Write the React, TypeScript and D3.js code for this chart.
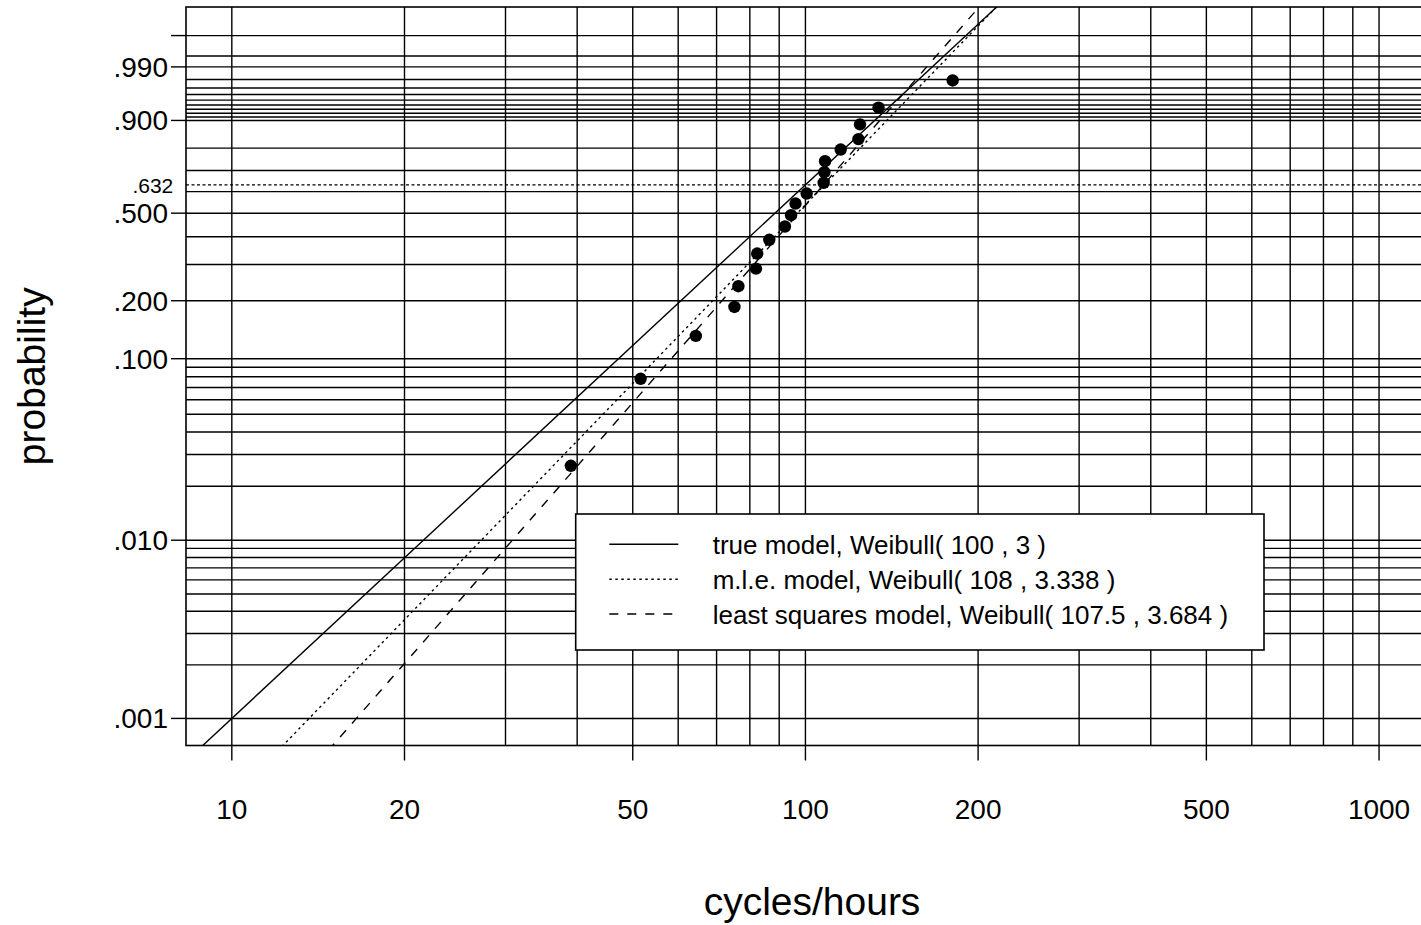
import React from "react";
import * as d3 from "d3";

// Observed failure times and their plotting probabilities
const failureTimes = [
  39.0, 51.6, 64.4, 75.2, 76.4, 82.0, 82.4, 86.5, 92.1, 94.4,
  96.1, 100.5, 107.6, 107.9, 108.2, 115.2, 123.7, 124.5, 134.1, 180.6,
];
const failureProbs = [
  0.026, 0.078, 0.132, 0.186, 0.236, 0.287, 0.337, 0.388, 0.442, 0.491,
  0.544, 0.591, 0.642, 0.692, 0.743, 0.794, 0.836, 0.888, 0.934, 0.979,
];

// Fitted Weibull models (scale eta, shape beta)
const modelNames = [
  "true model, Weibull( 100 , 3 )",
  "m.l.e. model, Weibull( 108 , 3.338 )",
  "least squares model, Weibull( 107.5 , 3.684 )",
];
const modelEta = [100, 108, 107.5];
const modelBeta = [3, 3.338, 3.684];

// Axis ticks
const xTickValues = [10, 20, 50, 100, 200, 500, 1000];
const xTickLabels = ["10", "20", "50", "100", "200", "500", "1000"];
const xGridValues = [
  10, 20, 30, 40, 50, 60, 70, 80, 90, 100,
  200, 300, 400, 500, 600, 700, 800, 900, 1000,
];
const yTickValues = [0.001, 0.01, 0.1, 0.2, 0.5, 0.9, 0.99, 0.999];
const yTickLabels = [".001", ".010", ".100", ".200", ".500", ".900", ".990", ""];
const yGridValues = [
  0.001, 0.002, 0.003, 0.004, 0.005, 0.006, 0.007, 0.008, 0.009,
  0.01, 0.02, 0.03, 0.04, 0.05, 0.06, 0.07, 0.08, 0.09,
  0.1, 0.2, 0.3, 0.4, 0.5, 0.6, 0.7, 0.8, 0.9,
  0.91, 0.92, 0.93, 0.94, 0.95, 0.96, 0.97, 0.98, 0.99,
  0.995, 0.999,
];
const characteristicProb = 0.632;

const W = 1421;
const H = 925;
const plot = { left: 186, right: 1438, top: 7, bottom: 745.5 };
const FONT = "'Liberation Sans', Arial, Helvetica, sans-serif";

// Weibull probability transform: log10(-ln(1 - p))
const wtrans = (p: number) => Math.log10(-Math.log(1 - p));

const x = d3.scaleLog().domain([8.32, 1267]).range([plot.left, plot.right]);
const y = d3.scaleLinear().domain([-3.152, 1.0]).range([plot.bottom, plot.top]);
const yp = (p: number) => y(wtrans(p));

const dashes = [null, "2.5,3.5", "9,9"];

export default function App() {
  const tDomain = x.domain();

  // Weibull CDF is a straight line on these axes: beta * log10(t / eta)
  const modelPath = (k: number) =>
    d3
      .line<number>()
      .x((t) => x(t))
      .y((t) => y(modelBeta[k] * Math.log10(t / modelEta[k])))([
      tDomain[0],
      tDomain[1],
    ]) as string;

  const legend = { x0: 575.7, y0: 514, x1: 1264, y1: 650 };
  const rowY = [544.3, 579.3, 614];
  const lw = 1.4;

  return (
    <svg
      width={W}
      height={H}
      style={{ position: "absolute", left: 0, top: 0, background: "#fff" }}
      fontFamily={FONT}
    >
      <defs>
        <clipPath id="plotClip">
          <rect
            x={plot.left}
            y={plot.top}
            width={plot.right - plot.left}
            height={plot.bottom - plot.top}
          />
        </clipPath>
      </defs>
      <rect width={W} height={H} fill="#fff" />

      {/* grid */}
      <g stroke="#000" strokeWidth={lw}>
        {yGridValues.map((p) => (
          <line key={"h" + p} x1={plot.left} x2={plot.right} y1={yp(p)} y2={yp(p)} />
        ))}
        {xGridValues.map((t) => (
          <line key={"v" + t} x1={x(t)} x2={x(t)} y1={plot.top} y2={plot.bottom} />
        ))}
      </g>

      {/* characteristic life reference line */}
      <line
        x1={plot.left}
        x2={plot.right}
        y1={yp(characteristicProb)}
        y2={yp(characteristicProb)}
        stroke="#000"
        strokeWidth={lw}
        strokeDasharray="3,2.5"
      />

      {/* plot frame */}
      <rect
        x={plot.left}
        y={plot.top}
        width={plot.right - plot.left}
        height={plot.bottom - plot.top}
        fill="none"
        stroke="#000"
        strokeWidth={1.6}
      />

      {/* model lines */}
      <g clipPath="url(#plotClip)" fill="none" stroke="#000" strokeWidth={lw}>
        {modelNames.map((n, k) => (
          <path key={n} d={modelPath(k)} strokeDasharray={dashes[k] ?? undefined} />
        ))}
      </g>

      {/* data points */}
      <g fill="#000">
        {failureTimes.map((t, i) => (
          <circle key={i} cx={x(t)} cy={yp(failureProbs[i])} r={6.2} />
        ))}
      </g>

      {/* y axis */}
      <g stroke="#000" strokeWidth={lw}>
        {yTickValues.map((p) => (
          <line key={"yt" + p} x1={plot.left - 15} x2={plot.left} y1={yp(p)} y2={yp(p)} />
        ))}
      </g>
      <g fontSize={28} textAnchor="end" fill="#000">
        {yTickValues.map((p, i) => (
          <text key={"yl" + p} x={168} y={yp(p) + 10}>
            {yTickLabels[i]}
          </text>
        ))}
      </g>
      <text
        x={173.3}
        y={yp(characteristicProb) + 8.4}
        fontSize={21}
        textAnchor="end"
        fill="#000"
      >
        .632
      </text>

      {/* x axis */}
      <g stroke="#000" strokeWidth={lw}>
        {xTickValues.map((t) => (
          <line key={"xt" + t} x1={x(t)} x2={x(t)} y1={plot.bottom} y2={plot.bottom + 15} />
        ))}
      </g>
      <g fontSize={28} textAnchor="middle" fill="#000">
        {xTickValues.map((t, i) => (
          <text key={"xl" + t} x={x(t)} y={818.5}>
            {xTickLabels[i]}
          </text>
        ))}
      </g>

      {/* axis titles */}
      <text
        x={(plot.left + plot.right) / 2}
        y={915}
        fontSize={39}
        textAnchor="middle"
        fill="#000"
      >
        cycles/hours
      </text>
      <text
        transform={`translate(45, ${(plot.top + plot.bottom) / 2}) rotate(-90)`}
        fontSize={39}
        textAnchor="middle"
        fill="#000"
      >
        probability
      </text>

      {/* legend */}
      <rect
        x={legend.x0}
        y={legend.y0}
        width={legend.x1 - legend.x0}
        height={legend.y1 - legend.y0}
        fill="#fff"
        stroke="#000"
        strokeWidth={1.6}
      />
      {modelNames.map((n, k) => (
        <g key={"lg" + k}>
          <line
            x1={609.3}
            x2={678.3}
            y1={rowY[k]}
            y2={rowY[k]}
            stroke="#000"
            strokeWidth={lw}
            strokeDasharray={dashes[k] ?? undefined}
          />
          <text x={712.7} y={rowY[k] + 10} fontSize={26} fill="#000">
            {n}
          </text>
        </g>
      ))}
    </svg>
  );
}
